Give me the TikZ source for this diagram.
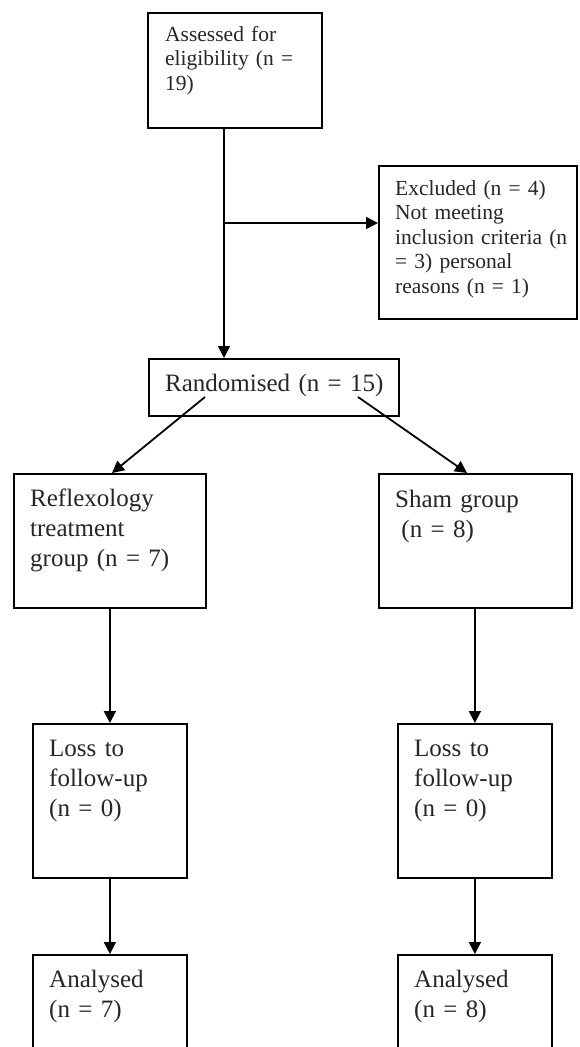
\documentclass[tikz,border=0pt]{standalone}
\usepackage{fontspec}
\setmainfont{Liberation Serif}
\usetikzlibrary{arrows.meta}
\begin{document}
\begin{tikzpicture}[x=1pt,y=-1pt,
  box/.style={draw=black, line width=1.8pt, inner sep=0pt, anchor=north west},
  small/.style={anchor=base west, inner sep=0pt, text width=#1, align=left, text=black!85, font=\fontsize{21.5pt}{24.5pt}\selectfont},
  big/.style={anchor=base west, inner sep=0pt, text width=#1, align=left, text=black!85, font=\fontsize{25pt}{30pt}\selectfont},
  ln/.style={line width=1.8pt},
  arr/.style={line width=1.8pt, -{Triangle[length=12pt,width=12pt]}}]
\clip (0,0) rectangle (579,1047);
\fill[white] (0,0) rectangle (579,1047);
% boxes
\node[box, minimum width=174pt, minimum height=115pt] (assess) at (147,12) {};
\node[box, minimum width=198pt, minimum height=153pt] (excl) at (378,165) {};
\node[box, minimum width=250pt, minimum height=57pt] (rand) at (148,358) {};
\node[box, minimum width=192pt, minimum height=134pt] (refl) at (13,473) {};
\node[box, minimum width=193pt, minimum height=134pt] (sham) at (378,473) {};
\node[box, minimum width=154pt, minimum height=154pt] (lossA) at (32,723) {};
\node[box, minimum width=154pt, minimum height=154pt] (lossB) at (397,723) {};
\node[box, minimum width=154pt, minimum height=130pt] (anA) at (32,954) {};
\node[box, minimum width=154pt, minimum height=130pt] (anB) at (397,954) {};
% texts
\node[small=150pt] (tassess) at (165,41) {Assessed for\\eligibility (n =\\19)};
\node[small=178pt] (texcl) at (395,195) {Excluded (n = 4)\\Not meeting\\inclusion criteria (n\\= 3) personal\\reasons (n = 1)};
\node[big=230pt] (trand) at (165,391) {Randomised (n = 15)};
\node[big=170pt] (trefl) at (30,506) {Reflexology\\treatment\\group (n = 7)};
\node[big=170pt] (tsham) at (395,507) {Sham group\\\hspace*{0.25em}(n = 8)};
\node[big=135pt] (tlossA) at (49,756) {Loss to\\follow-up\\(n = 0)};
\node[big=135pt] (tlossB) at (414,756) {Loss to\\follow-up\\(n = 0)};
\node[big=135pt] (tanA) at (49,987) {Analysed\\(n = 7)};
\node[big=135pt] (tanB) at (414,987) {Analysed\\(n = 8)};
% connectors
\coordinate (j) at (224,223);
\draw[ln] (assess.south -| j) -- (j);
\draw[arr] (j) -- (excl.west |- j);
\draw[arr] (j) -- (rand.north -| j);
\coordinate (rL) at (205,397);
\coordinate (rR) at (358,397);
\coordinate (reflIn) at (112,473);
\coordinate (shamIn) at (467,473);
\draw[arr] (rL) -- (reflIn);
\draw[arr] (rR) -- (shamIn);
\draw[arr] (refl.south) -- (lossA.north);
\draw[arr] (sham.south -| lossB.north) -- (lossB.north);
\draw[arr] (lossA.south) -- (anA.north);
\draw[arr] (lossB.south) -- (anB.north);
\end{tikzpicture}
\end{document}
